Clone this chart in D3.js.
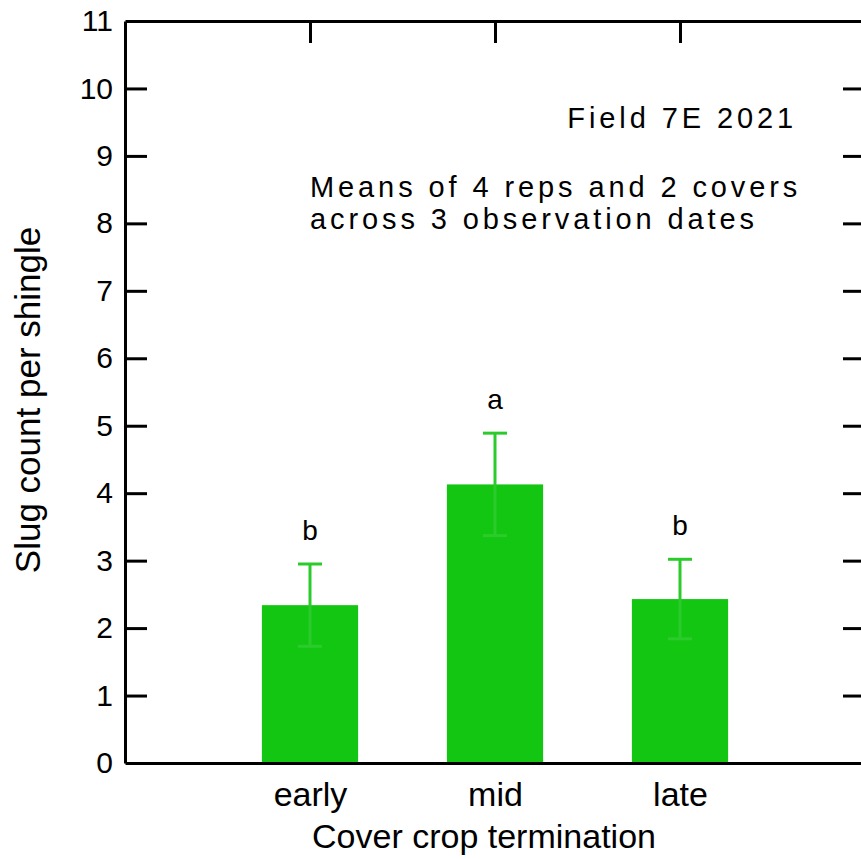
<!DOCTYPE html>
<html>
<head>
<meta charset="utf-8">
<script src="https://cdn.jsdelivr.net/npm/d3@7"></script>
<style>
  html, body { margin: 0; padding: 0; background: #fff; }
  svg { display: block; font-family: "Liberation Sans", Arial, sans-serif; }
</style>
</head>
<body>
<svg id="chart" width="861" height="859"></svg>
<script>
// Slug counts by cover crop termination timing
const categories = ["early", "mid", "late"];
const means = [2.34, 4.13, 2.43];
const errors = [0.61, 0.76, 0.59];
const letters = ["b", "a", "b"];
const yTicks = [0, 1, 2, 3, 4, 5, 6, 7, 8, 9, 10, 11];
const noteTitle = "Field 7E 2021";
const noteLines = ["Means of 4 reps and 2 covers", "across 3 observation dates"];

const svg = d3.select("#chart");
const plotLeft = 125, plotRight = 865, plotTop = 21, plotBottom = 763;
const ink = "#000";
const barColor = "#12c612";
const errColor = "#2ccb2c";

const y = d3.scaleLinear().domain([0, 11]).range([plotBottom, plotTop]);
// categories sit at positions 1..3 on a 0..4 axis
const x = d3.scaleLinear().domain([0, categories.length + 1]).range([plotLeft, plotRight]);
const barW = x(0.52) - x(0);

// bars
svg.append("g").selectAll("rect")
  .data(means)
  .join("rect")
  .attr("x", (d, i) => x(i + 1) - barW / 2)
  .attr("y", d => y(d))
  .attr("width", barW)
  .attr("height", d => y(0) - y(d))
  .attr("fill", barColor);

// error bars
const eb = svg.append("g").attr("stroke", errColor).attr("stroke-width", 3).attr("fill", "none");
means.forEach((m, i) => {
  const cx = x(i + 1);
  const hi = y(m + errors[i]), lo = y(m - errors[i]);
  eb.append("line").attr("x1", cx).attr("x2", cx).attr("y1", hi).attr("y2", lo);
  eb.append("line").attr("x1", cx - 12).attr("x2", cx + 12).attr("y1", hi).attr("y2", hi);
  eb.append("line").attr("x1", cx - 12).attr("x2", cx + 12).attr("y1", lo).attr("y2", lo);
});

// significance letters
svg.append("g").selectAll("text")
  .data(letters)
  .join("text")
  .attr("x", (d, i) => x(i + 1))
  .attr("y", (d, i) => y(means[i] + errors[i]) - 24)
  .attr("text-anchor", "middle")
  .attr("font-size", 28)
  .attr("fill", ink)
  .text(d => d);

// axes
function styleAxis(g, size) {
  g.select(".domain").attr("stroke", ink).attr("stroke-width", 3);
  g.selectAll(".tick line").attr("stroke", ink).attr("stroke-width", 3);
  g.selectAll(".tick text").attr("fill", ink).attr("font-size", size)
    .attr("font-family", "'Liberation Sans', Arial, sans-serif");
}

const yLeft = d3.axisLeft(y).tickValues(yTicks).tickSizeInner(-22).tickSizeOuter(0)
  .tickPadding(12).tickFormat(d3.format("d"));
svg.append("g").attr("transform", `translate(${plotLeft},0)`).call(yLeft).call(styleAxis, 30)
  .call(g => g.selectAll(".tick line").filter(d => d === 0 || d === 11).remove());

const yRight = d3.axisRight(y).tickValues(yTicks.filter(d => d > 0 && d < 11))
  .tickSizeInner(-22).tickSizeOuter(0).tickFormat("");
svg.append("g").attr("transform", `translate(${plotRight},0)`).call(yRight).call(styleAxis, 30);

const xTop = d3.axisTop(x).tickValues(categories.map((c, i) => i + 1))
  .tickSizeInner(-22).tickSizeOuter(0).tickFormat("");
svg.append("g").attr("transform", `translate(0,${plotTop})`).call(xTop).call(styleAxis, 30);

const xBottom = d3.axisBottom(x).tickValues(categories.map((c, i) => i + 1))
  .tickSize(0).tickPadding(19).tickFormat(d => categories[d - 1]);
svg.append("g").attr("transform", `translate(0,${plotBottom})`).call(xBottom).call(styleAxis, 34)
  .call(g => g.selectAll(".tick text").attr("dy", "0.71em"));

// axis titles
svg.append("text")
  .attr("transform", `translate(40,400) rotate(-90)`)
  .attr("text-anchor", "middle")
  .attr("font-size", 35)
  .attr("fill", ink)
  .text("Slug count per shingle");

svg.append("text")
  .attr("x", 484)
  .attr("y", 848)
  .attr("text-anchor", "middle")
  .attr("font-size", 34)
  .attr("fill", ink)
  .text("Cover crop termination");

// notes
svg.append("text")
  .attr("x", 797).attr("y", 128)
  .attr("text-anchor", "end")
  .attr("font-size", 29)
  .attr("letter-spacing", 3.9)
  .attr("fill", ink)
  .text(noteTitle);

svg.append("g").selectAll("text")
  .data(noteLines)
  .join("text")
  .attr("x", 310)
  .attr("y", (d, i) => 197 + i * 32)
  .attr("font-size", 29)
  .attr("letter-spacing", 3.9)
  .attr("fill", ink)
  .text(d => d);
</script>
</body>
</html>
